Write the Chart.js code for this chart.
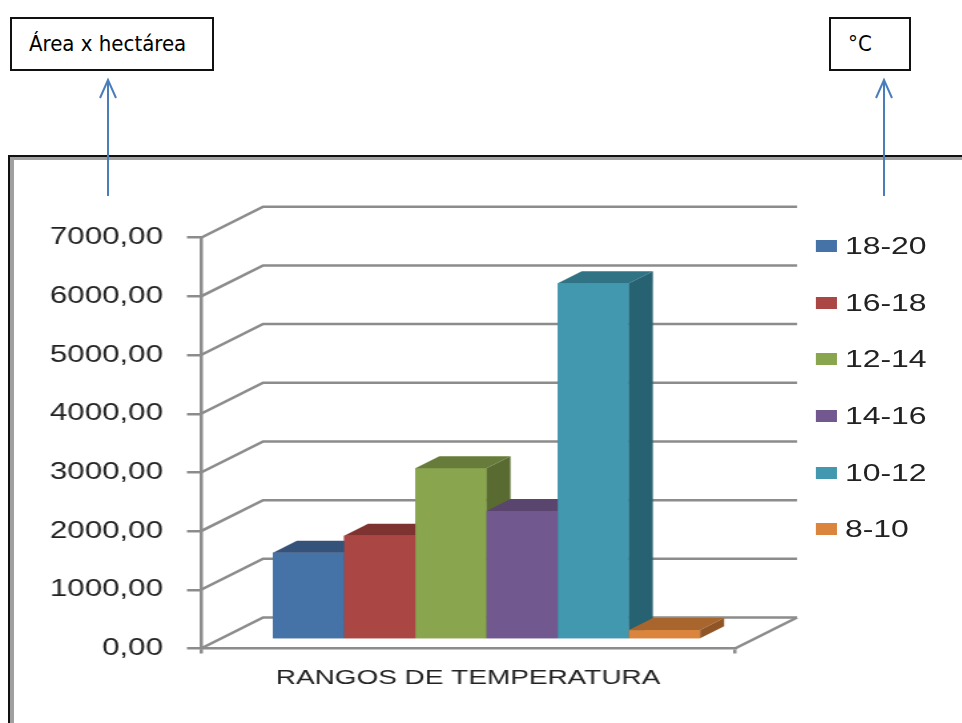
<!DOCTYPE html>
<html>
<head>
<meta charset="utf-8">
<script src="https://cdn.jsdelivr.net/npm/chart.js@4.4.0/dist/chart.umd.min.js"></script>
<style>
  body { margin: 0; background: #fff; width: 962px; height: 723px; overflow: hidden; position: relative; }
  #frame { position: absolute; left: 8px; top: 155px; width: 1000px; height: 700px;
           border: 2px solid #111; box-shadow: inset 4px 3px 0 #a0a0a0; }
  .note { position: absolute; top: 17px; height: 50px; border: 2px solid #111; background: #fff;
          font-family: 'Liberation Sans Narrow', 'DejaVu Sans Condensed', sans-serif; font-size: 22px;
          line-height: 50px; color: #000; box-sizing: content-box; }
  #wrap { position: absolute; left: 0; top: 0; width: 723px; height: 723px;
          transform: scaleX(1.3306); transform-origin: 0 0; }
  #legend { position: absolute; left: 613.3px; top: 217.6px; font-family: 'Liberation Sans', Arial, sans-serif;
            font-size: 24px; color: #222; }
  #legend .item { height: 56.7px; display: flex; align-items: center; white-space: nowrap; }
  #legend .box { width: 15.8px; height: 12px; margin-right: 5.9px; }
  #arrows { position: absolute; left: 0; top: 0; }
</style>
</head>
<body>
<div id="frame"></div>
<div class="note" style="left:10px; width:183px; padding-left:17px;">Área x hectárea</div>
<div class="note" style="left:829px; width:61px; padding-left:17px;">°C</div>

<div id="wrap">
  <canvas id="chart3d"></canvas>
  <div id="legend"></div>
</div>

<svg id="arrows" width="962" height="723">
  <g stroke="#4a7ebb" stroke-width="2" fill="none">
    <line x1="108" y1="80" x2="108" y2="196"/>
    <polyline points="100,98 108,80 116,98"/>
    <line x1="884" y1="80" x2="884" y2="196"/>
    <polyline points="876,98 884,80 892,98"/>
  </g>
</svg>

<script>
// data
const categories = ['RANGOS DE TEMPERATURA'];
const seriesNames = ['18-20', '16-18', '12-14', '14-16', '10-12', '8-10'];
const seriesValues = [1480, 1770, 2920, 2190, 6070, 160];
const yTicks = [0, 1000, 2000, 3000, 4000, 5000, 6000, 7000];

// colours of the faces
const frontColors = ['#4572a7', '#aa4643', '#89a54e', '#71588f', '#4198af', '#db843d'];
const topColors   = ['#35527b', '#7f3331', '#677c3b', '#5a456f', '#2f7385', '#a8662e'];
const sideColors  = ['#2f4a70', '#70302d', '#5a6b32', '#4f3d63', '#266271', '#8f5526'];

const gridColor = '#8c8c8c';
const depthX = 46.6, depthY = -31;   // back wall offset
const shiftX = 13.9, shiftY = -9;    // bars sit a bit behind the front plane
const barDX = 18, barDY = -12;       // depth of each bar

Chart.defaults.font.family = "'Liberation Sans', Arial, sans-serif";

// draws the back wall lines, and the 3d boxes for the bars
const fake3d = {
  id: 'fake3d',
  beforeDatasetsDraw(chart) {
    const ctx = chart.ctx;
    const area = chart.chartArea;
    const y = chart.scales.y;
    ctx.save();
    ctx.strokeStyle = gridColor;
    ctx.lineWidth = 2.5;
    yTicks.forEach(v => {
      const py = y.getPixelForValue(v);
      ctx.beginPath();
      ctx.moveTo(area.left, py);
      ctx.lineTo(area.left + depthX, py + depthY);
      ctx.lineTo(area.right + depthX, py + depthY);
      ctx.stroke();
    });
    ctx.beginPath();
    ctx.moveTo(area.right, area.bottom);
    ctx.lineTo(area.right + depthX, area.bottom + depthY);
    ctx.stroke();
    ctx.restore();

    ctx.save();
    ctx.translate(shiftX, shiftY);
  },
  afterDatasetsDraw(chart) {
    const ctx = chart.ctx;
    // left to right so each box covers the side of the one before
    chart.data.datasets.forEach((ds, i) => {
      const meta = chart.getDatasetMeta(i);
      meta.data.forEach(bar => {
        const p = bar.getProps(['x', 'y', 'base', 'width'], true);
        const l = p.x - p.width / 2, r = p.x + p.width / 2;
        ctx.fillStyle = frontColors[i];
        ctx.fillRect(l, p.y, r - l, p.base - p.y);

        ctx.fillStyle = topColors[i];
        ctx.beginPath();
        ctx.moveTo(l, p.y);
        ctx.lineTo(r, p.y);
        ctx.lineTo(r + barDX, p.y + barDY);
        ctx.lineTo(l + barDX, p.y + barDY);
        ctx.closePath();
        ctx.fill();

        ctx.fillStyle = sideColors[i];
        ctx.beginPath();
        ctx.moveTo(r, p.y);
        ctx.lineTo(r + barDX, p.y + barDY);
        ctx.lineTo(r + barDX, p.base + barDY);
        ctx.lineTo(r, p.base);
        ctx.closePath();
        ctx.fill();
      });
    });
    ctx.restore();
  }
};

new Chart(document.getElementById('chart3d'), {
  type: 'bar',
  data: {
    labels: categories,
    datasets: seriesNames.map((name, i) => ({
      label: name,
      data: [seriesValues[i]],
      backgroundColor: frontColors[i],
      borderWidth: 0
    }))
  },
  options: {
    responsive: true,
    maintainAspectRatio: false,
    animation: false,
    layout: { padding: { top: 237.7, right: 170.6, left: 0, bottom: 0 } },
    datasets: { bar: { categoryPercentage: 0.8, barPercentage: 1 } },
    plugins: { legend: { display: false }, tooltip: { enabled: false } },
    scales: {
      x: {
        grid: { drawOnChartArea: false, tickLength: 5, color: gridColor, lineWidth: 2.5 },
        border: { display: true, color: gridColor, width: 2.5 },
        ticks: { color: '#222', font: { size: 21 }, padding: 12 },
        afterFit: s => { s.height = 74.5; }
      },
      y: {
        min: 0,
        max: 7000,
        afterBuildTicks: s => { s.ticks = yTicks.map(v => ({ value: v })); },
        grid: { drawOnChartArea: false, tickLength: 10.6, color: gridColor, lineWidth: 2.5 },
        border: { display: true, color: gridColor, width: 2.5 },
        ticks: {
          color: '#222',
          font: { size: 23.5 },
          padding: 18,
          callback: v => v.toFixed(2).replace('.', ',')
        },
        afterFit: s => { s.width = 151.1; }
      }
    }
  },
  plugins: [fake3d]
});

// legend as html, from the same arrays
const legend = document.getElementById('legend');
seriesNames.forEach((name, i) => {
  const item = document.createElement('div');
  item.className = 'item';
  item.innerHTML = '<span class="box" style="background:' + frontColors[i] + '"></span>' + name;
  legend.appendChild(item);
});
</script>
</body>
</html>
